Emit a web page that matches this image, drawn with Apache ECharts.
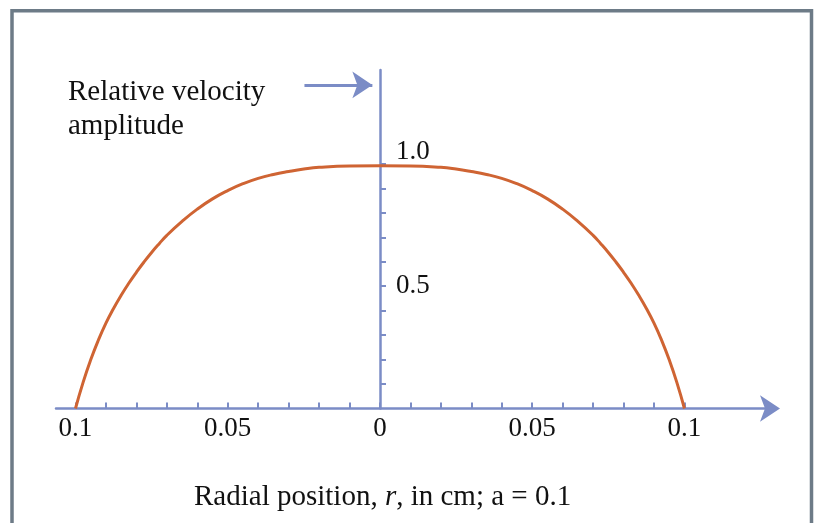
<!DOCTYPE html>
<html>
<head>
<meta charset="utf-8">
<script src="https://cdn.jsdelivr.net/npm/echarts@6/dist/echarts.min.js"></script>
<style>
  html, body { margin: 0; padding: 0; background: #ffffff; }
  #chart { width: 815px; height: 523px; }
</style>
</head>
<body>
<div id="chart"></div>
<script>
// Radial position across the tube (cm), wall to wall
const radius = [-0.1, -0.0975, -0.095, -0.0925, -0.09, -0.0875, -0.085, -0.0825, -0.08, -0.0775,
  -0.075, -0.0725, -0.07, -0.065, -0.06, -0.055, -0.05, -0.045, -0.04, -0.035, -0.03, -0.025, -0.02, -0.01, 0,
  0.01, 0.02, 0.025, 0.03, 0.035, 0.04, 0.045, 0.05, 0.055, 0.06, 0.065, 0.07, 0.0725,
  0.075, 0.0775, 0.08, 0.0825, 0.085, 0.0875, 0.09, 0.0925, 0.095, 0.0975, 0.1];
// Relative velocity amplitude at each radial position
const amplitude = [0, 0.107, 0.199, 0.279, 0.349, 0.409, 0.463, 0.512, 0.557, 0.599,
  0.638, 0.674, 0.708, 0.765, 0.815, 0.857, 0.891, 0.919, 0.941, 0.957, 0.969, 0.979, 0.986, 0.992, 0.993,
  0.992, 0.986, 0.979, 0.969, 0.957, 0.941, 0.919, 0.891, 0.857, 0.815, 0.765, 0.708, 0.674,
  0.638, 0.599, 0.557, 0.512, 0.463, 0.409, 0.349, 0.279, 0.199, 0.107, 0];

const xTickValues = [-0.1, -0.09, -0.08, -0.07, -0.06, -0.05, -0.04, -0.03, -0.02, -0.01, 0,
  0.01, 0.02, 0.03, 0.04, 0.05, 0.06, 0.07, 0.08, 0.09, 0.1];
const xLabelValues = [-0.1, -0.05, 0, 0.05, 0.1];
const yTickValues = [0.1, 0.2, 0.3, 0.4, 0.5, 0.6, 0.7, 0.8, 0.9, 1.0];
const yLabelValues = [0.5, 1.0];

const axisBlue = '#7b8cc6';
const curveColor = '#cf6433';
const serif = '"Liberation Serif", "DejaVu Serif", serif';

// pixel position of r = 0 inside the grid, used to park the value axis there
const gridLeft = 56;
const zeroX = 380;

const chart = echarts.init(document.getElementById('chart'), null, { renderer: 'canvas' });

chart.setOption({
  backgroundColor: '#ffffff',
  animation: false,
  title: [
    {
      text: 'Relative velocity\namplitude',
      left: 63,
      top: 70,
      textStyle: { fontFamily: serif, fontSize: 29, fontWeight: 'normal', color: '#111', lineHeight: 34 }
    },
    {
      text: '{n|Radial position, }{i|r}{n|, in cm; a = 0.1}',
      left: 189,
      top: 478,
      textStyle: {
        fontWeight: 'normal',
        rich: {
          n: { fontFamily: serif, fontSize: 29, fontWeight: 'normal', color: '#111' },
          i: { fontFamily: serif, fontSize: 29, fontWeight: 'normal', fontStyle: 'italic', color: '#111' }
        }
      }
    }
  ],
  grid: { left: gridLeft, right: 45, top: 70, bottom: 114.5, containLabel: false },
  xAxis: {
    type: 'value',
    min: -0.1064,
    max: 0.1281,
    splitLine: { show: false },
    axisLine: {
      lineStyle: { color: axisBlue, width: 2.5 },
      symbol: ['none', 'arrow'],
      symbolSize: [20, 20],
      symbolOffset: [0, 10]
    },
    axisTick: {
      inside: true,
      length: 6,
      lineStyle: { color: axisBlue, width: 2 },
      customValues: xTickValues
    },
    axisLabel: {
      customValues: xLabelValues,
      margin: 7,
      fontFamily: serif,
      fontSize: 27,
      color: '#111',
      formatter: v => String(Math.abs(v))
    }
  },
  yAxis: {
    type: 'value',
    min: 0,
    max: 1.384,
    position: 'left',
    offset: gridLeft - zeroX,
    splitLine: { show: false },
    axisLine: { onZero: false, lineStyle: { color: axisBlue, width: 2.5 } },
    axisTick: {
      inside: true,
      length: 6,
      lineStyle: { color: axisBlue, width: 2 },
      customValues: yTickValues
    },
    axisLabel: {
      inside: true,
      customValues: yLabelValues,
      margin: 16,
      fontFamily: serif,
      fontSize: 27,
      color: '#111',
      formatter: v => (v >= 1 ? '{hi|' + v.toFixed(1) + '}' : '{n|' + v.toFixed(1) + '}'),
      rich: {
        hi: { fontFamily: serif, fontSize: 27, color: '#111', padding: [0, 0, 24, 0] },
        n: { fontFamily: serif, fontSize: 27, color: '#111' }
      }
    }
  },
  graphic: [
    {
      type: 'rect',
      silent: true,
      shape: { x: 12, y: 10.7, width: 799.5, height: 700 },
      style: { fill: 'none', stroke: '#6d7b87', lineWidth: 3.5 }
    }
  ],
  series: [
    {
      type: 'line',
      data: radius.map((r, i) => [r, amplitude[i]]),
      smooth: 0.5,
      showSymbol: false,
      lineStyle: { color: curveColor, width: 3 },
      z: 5,
      markLine: {
        silent: true,
        symbol: ['none', 'arrow'],
        symbolSize: [20, 20],
        label: { show: false },
        lineStyle: { color: axisBlue, width: 3, type: 'solid' },
        data: [[{ coord: [-0.0248, 1.323] }, { coord: [-0.0025, 1.323] }]]
      }
    }
  ]
});
</script>
</body>
</html>
